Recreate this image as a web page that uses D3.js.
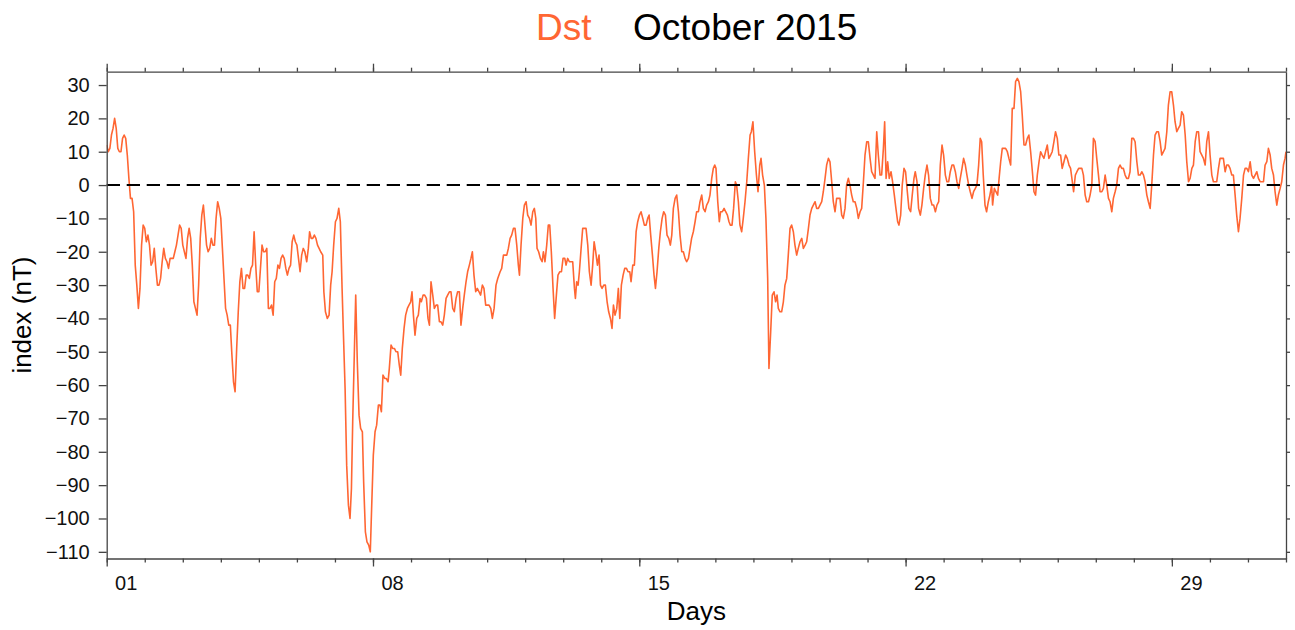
<!DOCTYPE html>
<html>
<head>
<meta charset="utf-8">
<script src="https://d3js.org/d3.v7.min.js"></script>
<style>
    body {
        margin: 0;
        background: #fff;
        font-family: 'Liberation Sans', Arial, sans-serif;
    }

    svg {
        display: block;
    }

    .frame path,
    .frame line {
        stroke: #444;
        stroke-width: 1.3;
    }

    .frame text {
        font-family: 'Liberation Sans', Arial, sans-serif;
        font-size: 20px;
        fill: #111;
    }
</style>
</head>

<body>
<svg id="chart" width="1295" height="630"></svg>

<script>
    // Dst index, October 2015: [hours since Oct 01 00:00, nT]
    const dstDays01to05 = [
        [0, 12], [1, 10], [2, 11], [3, 15], [4, 17], [5, 20], [6, 17], [7, 11], [8, 10], [9, 10], [10, 14], [11, 15], [12, 14], [13, 9], [14, 2], [15, -4], [16, -4], [17, -8], [18, -24], [19, -30], [20, -37], [21, -31], [22, -18], [23, -12],
        [24, -13], [25, -17], [26, -15], [27, -18], [28, -24], [29, -23], [30, -19], [31, -25], [32, -30], [33, -30], [34, -28], [35, -23], [36, -19], [37, -22], [38, -23], [39, -25], [40, -22], [41, -22], [42, -22], [43, -20], [44, -18], [45, -15], [46, -12], [47, -13],
        [48, -18], [50, -22], [51, -16], [52, -13], [53, -16], [54, -24], [55, -35], [56, -37], [57, -39], [58, -30], [59, -16], [60, -9], [61, -6], [62, -12], [63, -18], [64, -20], [65, -19], [66, -16], [67, -18], [68, -18], [69, -10], [70, -5], [71, -7],
        [72, -10], [73, -19], [74, -28], [75, -37], [76, -39], [77, -42], [78, -42], [79, -51], [80, -59], [81, -62], [82, -49], [83, -38], [84, -29], [85, -25], [86, -31], [87, -31], [88, -27], [89, -27], [90, -28], [91, -25], [92, -24], [93, -14], [94, -24], [95, -32],
        [96, -32], [97, -25], [98, -18], [99, -20], [100, -20], [101, -19], [102, -37], [103, -37], [104, -36], [105, -39], [106, -29], [107, -28], [108, -24], [109, -25], [110, -22], [111, -21], [112, -22], [113, -25], [114, -27], [115, -25], [116, -24], [117, -17], [118, -15], [119, -17],
        [120, -18], [121, -22], [122, -26], [123, -21], [124, -19], [125, -20]
    ];

    const dstDays06to11 = [
        [126.2, -23], [127.2, -19], [128, -14], [129, -16], [130, -16], [131, -15], [132, -16], [133, -18], [134, -19], [135, -20], [136.3, -21], [137, -32], [138, -38], [139.2, -40], [140.3, -39], [141.3, -30], [142.2, -26], [143.2, -18],
        [144.3, -11], [145.3, -10], [146.4, -7], [147.4, -11], [148.5, -31], [149.3, -44], [150.4, -61], [151.4, -84], [152.5, -96], [153.5, -100], [154.4, -91], [155.2, -71], [156.2, -51], [157.1, -33], [158.1, -53], [159.2, -69], [160.2, -73], [161.3, -74], [162.1, -89], [163.2, -104], [164.2, -107], [165.3, -108], [166.3, -110], [167.2, -96],
        [168.2, -81], [169.3, -74], [170.3, -72], [171.4, -66], [172.4, -66], [173.3, -68], [174.3, -57], [175.4, -58], [176.4, -58], [177.5, -59], [178.3, -55], [179.4, -48], [180.4, -49], [181.5, -49], [182.5, -50], [183.6, -50], [184.6, -54], [185.5, -57], [186.5, -49], [187.6, -43], [188.6, -39], [189.7, -37], [190.7, -36], [191.8, -35],
        [192.6, -32], [193.5, -39], [194.5, -45], [195.6, -40], [196.6, -39], [197.7, -34], [198.5, -35], [199.6, -33], [200.6, -33], [201.7, -34], [202.7, -40], [203.6, -42], [204.6, -29], [205.7, -33], [206.7, -37], [207.8, -36], [208.8, -36], [209.9, -41], [210.9, -41], [212, -42], [213, -39], [214.1, -34], [215.1, -33],
        [216.2, -32], [217.2, -32], [218.3, -37], [219.3, -38], [220.4, -34], [221.4, -32], [222.5, -32], [223.5, -42], [224.6, -37], [225.6, -33], [226.7, -29], [227.7, -26], [228.8, -24], [229.8, -22], [230.7, -20], [231.7, -27], [232.8, -32], [233.8, -31], [234.9, -32], [235.9, -33], [237, -30], [238, -31], [239.1, -36],
        [240.2, -36], [241.2, -36], [242.3, -37], [243.3, -40], [244.4, -37]
    ];

    const dstDays11to16 = [
        [245.6, -30], [246.7, -28], [248.2, -26], [249.2, -25], [250.3, -21], [252.4, -21], [253.4, -19], [254.5, -16], [255.5, -15], [256.6, -13], [257.6, -13], [258.7, -18], [259.7, -24], [260.4, -27], [261.4, -18], [262.5, -10], [263.5, -6],
        [264.6, -5], [265.6, -9], [266.7, -10], [267.7, -12], [268.8, -8], [269.8, -7], [270.7, -10], [271.5, -19], [272.5, -20], [273.6, -22], [274.7, -23], [275.5, -20], [276.5, -23], [277.6, -18], [278.6, -12], [279.5, -12], [280.5, -20], [281.6, -31], [282.6, -40], [283.7, -33], [284.7, -27], [285.8, -26], [286.9, -26],
        [287.9, -22], [289, -22], [289.8, -24], [290.8, -22], [291.9, -23], [293, -23], [294, -23], [295.1, -31], [295.7, -34], [296.5, -29], [297.4, -30], [298.2, -26], [299.3, -19], [300.3, -13], [301.4, -13], [302.4, -13], [303.5, -18], [304.5, -26], [305.6, -30], [306.6, -24], [307.5, -17], [308.5, -20], [309.6, -24], [310.6, -21],
        [311.5, -30], [312.5, -31], [313.6, -30], [314.6, -30], [315.7, -35], [316.7, -38], [317.8, -40], [318.8, -43], [319.7, -36], [320.7, -39], [321.8, -37], [322.8, -31], [323.7, -40], [324.7, -30], [325.8, -27], [326.8, -25], [327.9, -25], [328.9, -26], [330, -26], [330.8, -29], [331.9, -24], [332.9, -24], [334, -14], [335, -11],
        [336.1, -9], [337.1, -8], [338.2, -10], [339.2, -12], [340.3, -12], [341.3, -10], [342.2, -9], [343.2, -15], [344.3, -21], [345.3, -27], [346.2, -31], [347.2, -26], [348.3, -19], [349.3, -14], [350.4, -10], [351.4, -8], [352.5, -9], [353.5, -15], [354.6, -16], [355.6, -18], [356.5, -15], [357.5, -7], [358.6, -4], [359.6, -3],
        [360.7, -8], [361.7, -15], [362.8, -20], [363.8, -20], [364.9, -22], [365.9, -23], [367, -22]
    ];

    const dstDays16to21 = [
        [368, -19], [369, -16], [370.1, -14], [371.2, -11], [372.2, -8], [373.3, -8], [374.3, -5], [375.4, -3], [376.4, -7], [377.5, -8], [378.5, -6], [379.6, -5], [380.6, -3], [381.7, 2], [382.7, 5], [383.6, 6], [384.4, 5], [385.5, -5], [386.5, -11], [387.3, -8], [388.4, -8], [389.5, -7], [390.5, -8], [391.6, -9],
        [392.6, -11], [393.4, -12], [394.5, -12], [395.5, -7], [396.6, 1], [397.4, 0], [398.5, -5], [399.5, -12], [400.6, -14], [401.6, -10], [402.7, -5], [403.8, 1], [404.8, 8], [405.9, 15], [406.7, 16], [407.7, 19], [408.8, 10], [409.9, 3], [410.9, -2], [412, 6], [412.8, 8], [413.8, 3], [414.9, 0], [415.9, -10],
        [417, -28], [417.8, -55], [418.9, -44], [419.9, -33], [421, -32], [422, -35], [422.9, -33], [423.7, -37], [424.8, -38], [425.8, -38], [426.9, -35], [427.9, -30], [429, -28], [430, -21], [431.1, -13], [432.1, -12], [433.2, -14], [434.2, -18], [435.3, -21], [436.3, -19], [437.4, -17], [438.5, -16], [439.5, -19],
        [440.6, -18], [441.6, -17], [442.7, -13], [443.7, -9], [444.8, -7], [445.8, -6], [446.9, -5], [447.9, -7], [449, -7], [450, -6], [451.1, -5], [452.1, -2], [453.2, 2], [454.2, 6], [455.3, 8], [456.3, 7], [457.4, 1], [458.4, -5], [459.5, -8], [460.5, -4], [461.6, -4], [462.6, -4], [463.7, -9],
        [464.7, -10], [465.8, -7], [466.8, 0], [467.9, 2], [468.9, 0], [470, -3], [471, -5], [472.1, -5], [473.2, -7], [474.2, -10], [475.3, -8], [476.3, -7], [477.4, 1], [478.4, 9], [479.5, 13], [480.5, 13], [481.6, 8], [482.6, 4], [483.7, 3], [484.7, 2], [485.8, 16], [486.8, 9], [487.9, 3],
        [488.9, 3], [490, 11], [490.8, 19], [491.7, 2], [492.7, 7], [493.7, 2], [494.8, 4], [495.8, 1]
    ];

    const dstDays21to26 = [
        [496.9, -3], [497.9, -7], [499, -11], [499.8, -12], [500.9, -9], [501.9, 0], [503, 5], [504, 4], [505.1, -2], [506.1, -7], [507.2, -8], [508.2, -3], [509.3, 2], [510.1, 4], [511.2, 1], [512.2, -7], [513.3, -9], [514.3, -6], [515.4, -1], [516.4, 3], [517.5, 6], [518.5, 3], [519.6, -4],
        [520.7, -6], [521.7, -6], [522.8, -8], [523.8, -6], [524.9, -5], [525.9, 6], [527, 12], [528, 9], [529.1, 3], [530.1, 1], [531.2, 1], [532.2, 4], [533.3, 6], [534.3, 6], [535.4, 4], [536.4, 1], [537.5, -1], [538.5, 2], [539.6, 5], [540.6, 8], [541.7, 6], [542.7, 3], [543.8, 0],
        [544.8, -2], [545.9, -4], [546.9, -2], [548, -1], [549, 0], [550.1, 6], [551.1, 14], [552, 13], [553, 3], [554.1, -6], [555.1, -8], [556.2, -5], [557.2, -3], [558.3, 0], [558.9, -6], [560, -1], [561, -2], [562.1, -3], [563, 2], [564, 7], [565, 11], [566.1, 11], [567.1, 11],
        [568.2, 10], [569.2, 8], [570.3, 6], [571.3, 23], [572.4, 23], [573.4, 31], [574.5, 32], [575.5, 31], [576.6, 28], [577.6, 21], [578.7, 12], [579.7, 12], [580.8, 14], [581.8, 15], [582.9, 10], [584, 4], [585, -2], [586, -3], [587.1, 3], [588.2, 7], [589.2, 10], [590.2, 9], [591.3, 8],
        [592.3, 10], [593.4, 12], [594.4, 8], [595.5, 9], [596.5, 10], [597.6, 13], [598.6, 16], [599.7, 14], [600.7, 9], [601.8, 9], [602.8, 5], [603.9, 7], [605, 9], [606, 8], [607.1, 6], [608.1, 5], [609.2, 1], [610, -2], [611.1, 3], [612.1, 4], [613.2, 5]
    ];

    const dstDays26to31 = [
        [614.1, 5], [615.2, 5], [616.2, 3], [617.3, -3], [618.3, -5], [619.4, -5], [620.4, -3], [621.5, 0], [622.5, 14], [623.6, 13], [624.6, 8], [625.7, 3], [626.7, -2], [627.8, -2], [628.8, -1], [629.9, 3], [630.9, 0], [632, -4], [633, -5], [634.1, -8], [635.1, -4],
        [636.2, -2], [637.2, 0], [638.3, 5], [639.3, 6], [640.4, 5], [641.4, 5], [642.5, 3], [643.5, 2], [644.6, 2], [645.6, 4], [646.7, 14], [647.8, 14], [648.8, 13], [649.9, 7], [650.9, 3], [652, 3], [653, 4], [654.1, 3], [655.1, 1], [656.2, -3], [657.2, -5], [658.3, -7], [659.3, 0],
        [660.4, 9], [661.4, 15], [662.5, 16], [663.5, 16], [664.6, 13], [665.6, 9], [666.7, 10], [667.7, 11], [668.8, 16], [669.8, 24], [670.9, 28], [671.9, 28], [673, 24], [674, 19], [675.1, 16], [676.1, 17], [677.2, 18], [678.2, 22], [679.3, 21], [680.4, 15], [681.4, 7], [682.5, 1], [683.5, 2],
        [684.6, 5], [685.6, 6], [686.7, 13], [687.7, 16], [688.8, 16], [689.8, 10], [690.9, 9], [691.9, 8], [693, 6], [694, 13], [695.1, 16], [696.1, 9], [697.2, 3], [698.2, 1], [699.3, 1], [700.3, 1], [701.4, 5], [702.4, 8], [703.5, 8], [704.5, 8], [705.6, 4], [706.6, 6], [707.7, 6],
        [708.7, 5], [709.8, 3], [710.8, 3], [711.9, -3], [712.9, -9], [714, -14], [715, -10], [716.1, -4], [717.2, 3], [718.2, 5], [719.3, 5], [720.3, 4], [721.4, 7], [722.4, 3], [723.5, 2], [724.5, 3], [725.6, 4], [726.6, 2], [727.7, 1], [728.7, 1], [729.8, 1], [730.8, 6], [731.9, 7],
        [732.9, 11], [734, 9], [735, 5], [736.1, 3], [737.1, -2], [738.2, -6], [739.2, -3], [740.3, -1], [741.3, 1], [742.4, 6], [743.4, 8], [744, 10]
    ];

    const labelDays = [1, 8, 15, 22, 29];
    const dayLabels = ['01', '08', '15', '22', '29'];
    const yTicks = [30, 20, 10, 0, -10, -20, -30, -40, -50, -60, -70, -80, -90, -100, -110];

    const dstColor = '#ff6633';

    const dst = [].concat(dstDays01to05, dstDays06to11, dstDays11to16,
        dstDays16to21, dstDays21to26, dstDays26to31);

    const plotLeft = 106.7, plotRight = 1286, plotTop = 71.7, plotBottom = 558.5;

    const svg = d3.select('#chart');

    // x in days: 1 = Oct 01 00:00, 32 = Nov 01 00:00
    const x = d3.scaleLinear().domain([1, 32]).range([plotLeft, plotRight]);
    const y = d3.scaleLinear().domain([-112, 34]).range([plotBottom, plotTop]);

    svg.append('clipPath').attr('id', 'plotClip')
        .append('rect')
        .attr('x', plotLeft).attr('y', plotTop)
        .attr('width', plotRight - plotLeft).attr('height', plotBottom - plotTop);

    // data line
    svg.append('path')
        .datum(dst)
        .attr('clip-path', 'url(#plotClip)')
        .attr('fill', 'none')
        .attr('stroke', dstColor)
        .attr('stroke-width', 1.6)
        .attr('stroke-linejoin', 'round')
        .attr('d', d3.line()
            .x(function(d) { return x(1 + d[0] / 24); })
            .y(function(d) { return y(d[1]); }));

    // zero line
    svg.append('line')
        .attr('x1', x(1)).attr('x2', x(32))
        .attr('y1', y(0)).attr('y2', y(0))
        .attr('stroke', '#000')
        .attr('stroke-width', 2)
        .attr('stroke-dasharray', '13.3,6.7');

    const frame = svg.append('g').attr('class', 'frame');
    const allDays = d3.range(1, 33);

    // bottom: minor day ticks, major week ticks, labels at mid-day
    frame.append('g')
        .attr('transform', 'translate(0,' + plotBottom + ')')
        .call(d3.axisBottom(x).tickValues(allDays).tickSize(4).tickSizeOuter(0).tickFormat(''));
    frame.append('g')
        .attr('transform', 'translate(0,' + plotBottom + ')')
        .call(d3.axisBottom(x).tickValues(labelDays).tickSize(8).tickSizeOuter(0).tickFormat(''))
        .select('.domain').remove();
    frame.append('g')
        .attr('transform', 'translate(0,' + plotBottom + ')')
        .call(d3.axisBottom(x).tickValues(labelDays.map(function(d) { return d + 0.5; }))
            .tickSize(0).tickPadding(17)
            .tickFormat(function(d, i) { return dayLabels[i]; }))
        .call(function(g) { g.select('.domain').remove(); g.selectAll('line').remove(); });

    // top
    frame.append('g')
        .attr('transform', 'translate(0,' + plotTop + ')')
        .call(d3.axisTop(x).tickValues(allDays).tickSize(4).tickSizeOuter(0).tickFormat(''));
    frame.append('g')
        .attr('transform', 'translate(0,' + plotTop + ')')
        .call(d3.axisTop(x).tickValues(labelDays).tickSize(8).tickSizeOuter(0).tickFormat(''))
        .select('.domain').remove();

    // left / right
    frame.append('g')
        .attr('transform', 'translate(' + plotLeft + ',0)')
        .call(d3.axisLeft(y).tickValues(yTicks).tickSize(8).tickPadding(9).tickSizeOuter(0)
            .tickFormat(function(d) { return d < 0 ? '\u2212' + Math.abs(d) : d; }));
    frame.append('g')
        .attr('transform', 'translate(' + plotRight + ',0)')
        .call(d3.axisRight(y).tickValues(yTicks).tickSize(4).tickSizeOuter(0).tickFormat(''));

    frame.selectAll('.tick text').attr('fill', '#111');

    // titles
    svg.append('text')
        .attr('x', 536).attr('y', 40)
        .attr('font-size', 37)
        .attr('fill', dstColor)
        .text('Dst');
    svg.append('text')
        .attr('x', 633).attr('y', 40)
        .attr('font-size', 37)
        .attr('fill', '#000')
        .text('October 2015');

    svg.append('text')
        .attr('transform', 'translate(' + 31 + ',' + (plotTop + plotBottom) / 2 + ')rotate(-90)')
        .attr('text-anchor', 'middle')
        .attr('font-size', 26)
        .attr('fill', '#000')
        .text('index (nT)');

    svg.append('text')
        .attr('x', (plotLeft + plotRight) / 2).attr('y', 620)
        .attr('text-anchor', 'middle')
        .attr('font-size', 26)
        .attr('fill', '#000')
        .text('Days');
</script>
</body>
</html>
